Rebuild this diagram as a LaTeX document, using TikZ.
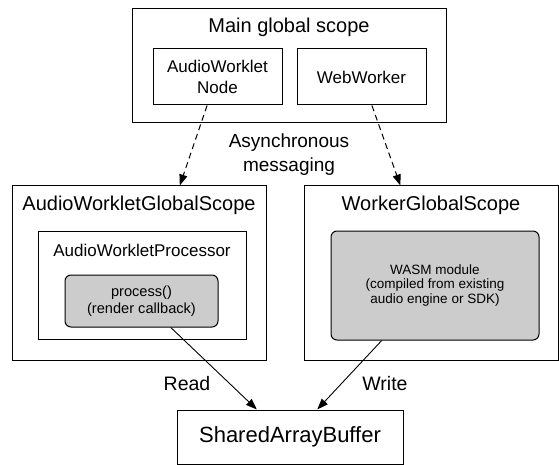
\documentclass[tikz,border=0pt]{standalone}
\usepackage{fontspec}
\setmainfont{Liberation Sans}
\usepackage{xcolor}
\usetikzlibrary{arrows.meta,positioning,calc}
\definecolor{modgray}{RGB}{204,204,204}

\begin{document}
\begin{tikzpicture}[x=1pt, y=-1pt, line width=1pt,
  scopebox/.style={draw, inner sep=0pt},
  modbox/.style={draw, fill=modgray, rounded corners=6pt, inner sep=0pt, align=center, font=\fontsize{13.5}{14.8}\selectfont},
  title/.style={font=\fontsize{20}{24}\selectfont},
  small/.style={font=\fontsize{17}{21}\selectfont, align=center},
  msg/.style={-{Triangle[length=11pt,width=8pt]}, dash pattern=on 6pt off 4pt},
  rw/.style={-{Triangle[length=11pt,width=8pt]}, line width=0.9pt}]
  \useasboundingbox (0,0) rectangle (559,465);

  % main thread
  \node[scopebox, minimum width=314pt, minimum height=114pt] (main) at (289,66) {};
  \node[title] (maintitle) at (289,27) {Main global scope};
  \node[scopebox, small, minimum width=129pt, minimum height=56pt] (awnode) at (217.5,77) {AudioWorklet\\Node};
  \node[scopebox, small, minimum width=129pt, minimum height=56pt] (webworker) at (361.5,77) {WebWorker};
  \node[align=center, font=\fontsize{19}{24}\selectfont] (async) at (289,155) {Asynchronous\\messaging};

  % audio thread
  \node[scopebox, minimum width=254pt, minimum height=174pt] (awgs) at (139,273) {};
  \node[title] (awgstitle) at (139,205) {AudioWorkletGlobalScope};
  \node[scopebox, minimum width=208pt, minimum height=108pt] (awproc) at (142,285) {};
  \node[small] (awproctitle) at (142,250) {AudioWorkletProcessor};
  \node[modbox, font=\fontsize{14.6}{17}\selectfont, minimum width=153pt, minimum height=52pt] (process) at (141.5,301) {process()\\(render callback)};

  % worker thread
  \node[scopebox, minimum width=254pt, minimum height=174pt] (wgs) at (431,273) {};
  \node[title] (wgstitle) at (431,205) {WorkerGlobalScope};
  \node[modbox, minimum width=208pt, minimum height=109pt] (wasm) at (435,285.5) {WASM module\\(compiled from existing\\audio engine or SDK)};

  % shared memory
  \node[scopebox, font=\fontsize{22}{26}\selectfont, minimum width=226pt, minimum height=54pt] (sab) at (290,437) {SharedArrayBuffer};
  \node[font=\fontsize{19.5}{24}\selectfont] (read) at (187,384) {Read};
  \node[font=\fontsize{19.5}{24}\selectfont] (write) at (385,384) {Write};

  \draw[msg] ($(awnode.south west)!0.42!(awnode.south east)$) -- ($(awgs.north west)!0.66!(awgs.north east)$);
  \draw[msg] ($(webworker.south west)!0.58!(webworker.south east)$) -- ($(wgs.north west)!0.38!(wgs.north east)$);
  \draw[rw] ($(process.south west)!0.69!(process.south east)$) -- ($(sab.north west)!0.354!(sab.north east)$);
  \draw[rw] ($(wasm.south west)!0.245!(wasm.south east)$) -- ($(sab.north west)!0.62!(sab.north east)$);
\end{tikzpicture}
\end{document}
